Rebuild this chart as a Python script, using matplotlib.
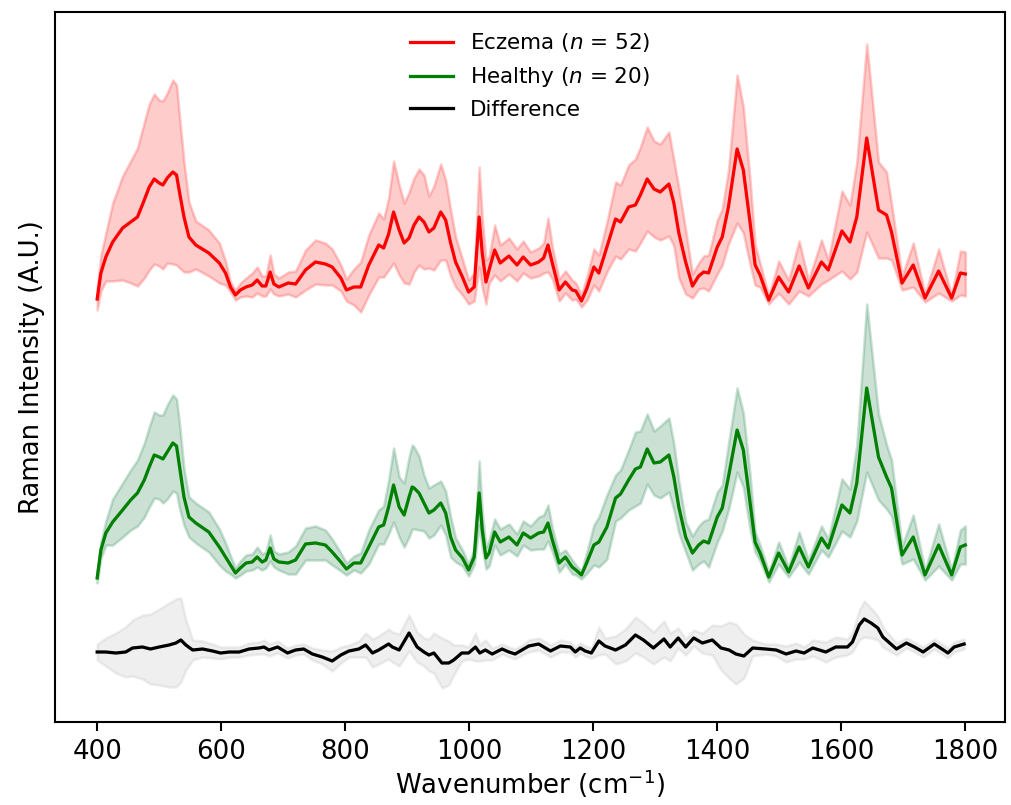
import numpy as np
import matplotlib
matplotlib.use("Agg")
import matplotlib.pyplot as plt

# Shared wavenumber grid (cm^-1) for the two group spectra
wavenumber = np.array([
    400, 406, 414, 425, 441, 454, 465, 476, 484, 492, 500, 506, 513, 522, 528, 533,
    540, 548, 559, 580, 597, 607, 615, 623, 631, 640, 650, 658, 666, 672, 679, 685,
    693, 708, 720, 736, 752, 768, 779, 793, 802, 814, 825, 838, 854, 862, 870,
    878, 887, 895, 903, 908, 911, 919, 927, 935, 943, 954, 962, 970, 978, 989, 999,
    1008, 1016, 1021, 1027, 1032, 1041, 1050, 1064, 1077, 1087, 1099, 1112, 1120, 1127,
    1134, 1145, 1155, 1166, 1172, 1181, 1190, 1201, 1209, 1222, 1236, 1244, 1257, 1268,
    1276, 1287, 1298, 1308, 1322, 1330, 1338, 1349, 1360, 1370, 1378, 1386,
    1400, 1408, 1418, 1432, 1442, 1453, 1461, 1469, 1483, 1499, 1515, 1532, 1547, 1568,
    1579, 1601, 1614, 1625, 1641, 1660, 1673, 1681, 1698, 1716, 1735, 1757, 1778, 1792, 1800,
])

# Eczema group (n = 52): mean spectrum and standard deviation (A.U.)
eczema_mean = np.array([
    21, 47, 63, 78, 92, 98, 103, 120, 133, 141, 137, 135, 142, 148, 145, 127,
    103, 83, 75, 67, 57, 47, 33, 25, 30, 33, 35, 40, 34, 34, 48, 36,
    33, 37, 36, 50, 58, 56, 53, 42, 30, 33, 33, 55, 75, 72, 86,
    108, 90, 77, 82, 90, 95, 103, 98, 88, 92, 108, 100, 77, 58, 43, 28,
    33, 103, 67, 38, 50, 70, 57, 64, 55, 63, 55, 58, 62, 75,
    57, 30, 38, 30, 29, 19, 32, 53, 47, 73, 101, 98, 113, 115,
    125, 141, 131, 128, 136, 117, 87, 58, 34, 44, 48, 47,
    73, 83, 113, 171, 150, 97, 55, 45, 20, 43, 28, 54, 32, 58,
    50, 89, 78, 103, 182, 110, 105, 88, 37, 55, 22, 49, 22, 47, 46,
])
eczema_std = np.array([
    11, 18, 24, 39, 52, 61, 69, 78, 83, 85, 83, 84, 85, 92, 90, 75,
    55, 35, 24, 23, 20, 12, 5, 5, 7, 9, 12, 13, 10, 10, 17, 10,
    9, 11, 13, 20, 22, 21, 18, 13, 11, 18, 25, 30, 32, 29, 36,
    51, 45, 40, 46, 47, 47, 48, 47, 36, 42, 48, 40, 33, 25, 18, 12,
    14, 50, 35, 22, 13, 25, 18, 18, 16, 16, 13, 14, 15, 27,
    16, 11, 11, 10, 8, 6, 12, 18, 18, 25, 37, 37, 42, 46,
    48, 52, 48, 48, 52, 43, 45, 32, 12, 13, 16, 18,
    27, 28, 37, 74, 63, 42, 20, 12, 4, 16, 12, 25, 8, 22,
    10, 40, 37, 55, 94, 48, 43, 28, 7, 22, 4, 22, 3, 22, 22,
])

# Healthy group (n = 20): mean spectrum and standard deviation (A.U.)
healthy_mean = np.array([
    22, 50, 67, 78, 90, 100, 107, 120, 133, 145, 143, 141, 148, 157, 154, 133,
    103, 83, 77, 68, 53, 43, 35, 27, 32, 37, 38, 43, 38, 40, 52, 41,
    38, 37, 40, 56, 57, 55, 48, 38, 31, 37, 37, 53, 73, 75, 93,
    115, 93, 85, 103, 113, 112, 107, 97, 87, 90, 97, 87, 63, 50, 42, 30,
    43, 107, 70, 42, 47, 68, 58, 63, 55, 67, 62, 67, 68, 77,
    60, 37, 43, 33, 30, 25, 38, 55, 58, 73, 102, 106, 120, 131,
    133, 151, 137, 138, 145, 123, 93, 63, 47, 55, 59, 57,
    83, 92, 123, 170, 150, 97, 58, 47, 23, 47, 28, 53, 33, 62,
    52, 95, 87, 117, 212, 143, 123, 112, 45, 63, 25, 55, 25, 53, 55,
])
healthy_std = np.array([
    5, 8, 12, 23, 27, 30, 33, 37, 40, 43, 42, 44, 47, 48, 47, 42,
    28, 20, 20, 20, 18, 14, 9, 5, 7, 8, 8, 10, 8, 8, 13, 8,
    8, 11, 14, 16, 17, 15, 13, 9, 6, 7, 10, 17, 17, 19, 27,
    37, 30, 32, 40, 42, 41, 37, 28, 25, 25, 22, 22, 20, 12, 8, 6,
    8, 32, 18, 11, 13, 13, 13, 13, 11, 12, 12, 16, 17, 18,
    12, 9, 7, 7, 5, 4, 11, 20, 25, 32, 23, 24, 30, 37,
    36, 35, 32, 36, 37, 33, 26, 15, 17, 19, 20, 24,
    25, 23, 33, 42, 37, 27, 10, 8, 5, 11, 5, 15, 7, 12,
    9, 26, 24, 38, 84, 43, 32, 28, 9, 22, 5, 21, 5, 17, 19,
])

# Difference spectrum and its spread
diff_wavenumber = np.array([
    400, 414, 430, 446, 457, 473, 486, 500, 516, 527, 535, 543, 554, 570, 586, 599,
    613, 629, 645, 661, 669, 677, 691, 707, 720, 733, 747, 763, 779, 793, 806, 822,
    833, 844, 854, 870, 876, 887, 903, 916, 927, 935, 943, 956, 967, 975, 988, 999,
    1010, 1017, 1026, 1037, 1053, 1064, 1074, 1085, 1096, 1112, 1131, 1147, 1163, 1171,
    1179, 1187, 1197, 1209, 1219, 1236, 1252, 1268, 1281, 1297, 1314, 1324, 1337, 1349,
    1362, 1376, 1392, 1406, 1419, 1430, 1443, 1457, 1478, 1495, 1511, 1527, 1540, 1554,
    1575, 1591, 1610, 1618, 1629, 1637, 1648, 1659, 1667, 1678, 1689, 1705, 1718, 1732,
    1750, 1772, 1782, 1798,
])
difference = np.array([
    -4, -4, -5, -4, 0, 1, -1, 1, 3, 5, 8, 3, -2, -1, -3, -5,
    -4, -4, -1, 0, 1, -2, 1, -5, -2, -1, -6, -9, -13, -7, -3, -1,
    3, -5, -2, 4, 1, -2, 15, 1, -4, -7, -5, -15, -15, -12, -5, -5,
    1, -5, -2, -6, -1, -4, -6, -2, 2, 4, -3, 2, 1, -4,
    0, -3, -5, 7, 2, -2, 3, 13, 8, 0, 9, 1, 10, 1,
    10, 5, 8, 0, -2, -6, -8, 0, -1, -2, -6, -3, -5, 0,
    -4, 1, 1, 6, 23, 29, 25, 20, 11, 5, -1, 5, 1, -4,
    4, -5, 1, 4,
])
difference_std = np.array([
    8, 14, 20, 25, 28, 32, 35, 38, 42, 44, 42, 25, 10, 8, 7, 6,
    5, 5, 6, 6, 7, 6, 6, 5, 5, 5, 6, 7, 10, 8, 6, 8,
    12, 14, 14, 15, 15, 16, 18, 15, 14, 16, 20, 25, 22, 15, 8, 6,
    14, 8, 10, 6, 5, 5, 5, 5, 6, 6, 6, 6, 5, 5,
    5, 5, 5, 14, 8, 14, 16, 18, 17, 16, 18, 14, 10, 8,
    8, 10, 15, 22, 28, 30, 22, 8, 5, 6, 8, 8, 6, 8,
    10, 10, 8, 10, 15, 18, 15, 12, 10, 8, 6, 5, 5, 5,
    5, 5, 5, 5,
])

# Vertical stacking offsets so the three traces do not overlap
ECZEMA_OFFSET = 402
HEALTHY_OFFSET = 122
DIFF_OFFSET = 74

x_ticks = [400, 600, 800, 1000, 1200, 1400, 1600, 1800]

DPI = 187
fig = plt.figure(figsize=(1011 / DPI, 805 / DPI), dpi=DPI)
ax = fig.add_axes([55 / 1011, 1 - 722 / 805, (1005 - 55) / 1011, (722 - 12) / 805])


def draw_band(x, mean, std, offset, line_color, fill_color, fill_alpha, label):
    ax.fill_between(x, mean + offset - std, mean + offset + std,
                    color=fill_color, alpha=fill_alpha)
    ax.plot(x, mean + offset, color=line_color, lw=1.25, label=label)


draw_band(wavenumber, eczema_mean, eczema_std, ECZEMA_OFFSET,
          "red", "red", 0.2, "Eczema ($n$ = 52)")
draw_band(wavenumber, healthy_mean, healthy_std, HEALTHY_OFFSET,
          "green", "seagreen", 0.25, "Healthy ($n$ = 20)")
draw_band(diff_wavenumber, difference, difference_std, DIFF_OFFSET,
          "black", "gray", 0.12, "Difference")

ax.set_xlim(332, 1864)
ax.set_ylim(0, 710)
ax.set_xticks(x_ticks)
ax.set_yticks([])
ax.tick_params(axis="x", pad=3)
ax.set_xlabel("Wavenumber (cm$^{-1}$)", labelpad=1)
ax.set_ylabel("Raman Intensity (A.U.)")
ax.legend(loc="upper center", frameon=False, fontsize=8.3)

fig.savefig("out.png", dpi=DPI)
